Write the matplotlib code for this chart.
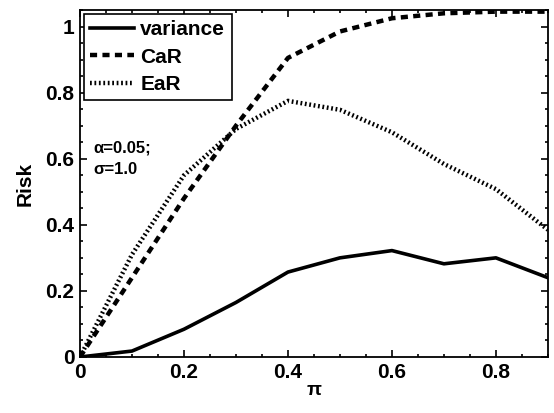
import matplotlib
matplotlib.use('Agg')
import matplotlib.pyplot as plt
from matplotlib.ticker import MultipleLocator

pi_vals = [0.0, 0.1, 0.2, 0.3, 0.4, 0.5, 0.6, 0.7, 0.8, 0.9]
variance = [0.0, 0.018, 0.084, 0.165, 0.257, 0.300, 0.322, 0.282, 0.300, 0.240]
car = [0.0, 0.24, 0.48, 0.70, 0.905, 0.985, 1.025, 1.040, 1.045, 1.045]
ear = [0.0, 0.31, 0.55, 0.69, 0.775, 0.748, 0.680, 0.584, 0.508, 0.385]

plt.rcParams['font.family'] = ['Liberation Sans', 'DejaVu Sans']
plt.rcParams['font.weight'] = 'bold'
plt.rcParams['axes.labelweight'] = 'bold'

fig = plt.figure(figsize=(5.54, 4.13), dpi=100)
ax = fig.add_axes([0.1444, 0.1356, 0.8446, 0.8402])

ax.plot(pi_vals, variance, color='black', lw=2.6, ls='-', label='variance')
ax.plot(pi_vals, car, color='black', lw=3.2, ls=(0, (1.6, 1.2)), label='CaR')
ax.plot(pi_vals, ear, color='black', lw=3.2, ls=(0, (0.4, 0.6)), label='EaR')

ax.set_xlim(0, 0.9)
ax.set_ylim(0, 1.05)
ax.set_xticks([0, 0.2, 0.4, 0.6, 0.8])
ax.set_xticklabels(['0', '0.2', '0.4', '0.6', '0.8'])
ax.set_yticks([0, 0.2, 0.4, 0.6, 0.8, 1.0])
ax.set_yticklabels(['0', '0.2', '0.4', '0.6', '0.8', '1'])
ax.xaxis.set_minor_locator(MultipleLocator(0.05))
ax.yaxis.set_minor_locator(MultipleLocator(0.05))
ax.tick_params(which='both', direction='in', top=True, right=True, width=1.2)
ax.tick_params(which='major', length=5, labelsize=15, pad=4)
ax.tick_params(which='minor', length=2.5)
for sp in ax.spines.values():
    sp.set_linewidth(1.3)

ax.set_xlabel('π', fontsize=14, labelpad=0)
ax.set_ylabel('Risk', fontsize=15, labelpad=8)

ax.text(0.025, 0.62, 'α=0.05;', fontsize=12)
ax.text(0.025, 0.555, 'σ=1.0', fontsize=12)

leg = ax.legend(loc='upper left', fontsize=15, handlelength=2.1, handletextpad=0.3,
                borderpad=0.3, labelspacing=0.4, fancybox=False, framealpha=1,
                edgecolor='black', borderaxespad=0.2)
leg.get_frame().set_linewidth(1.2)

fig.savefig('out.png', dpi=100)
